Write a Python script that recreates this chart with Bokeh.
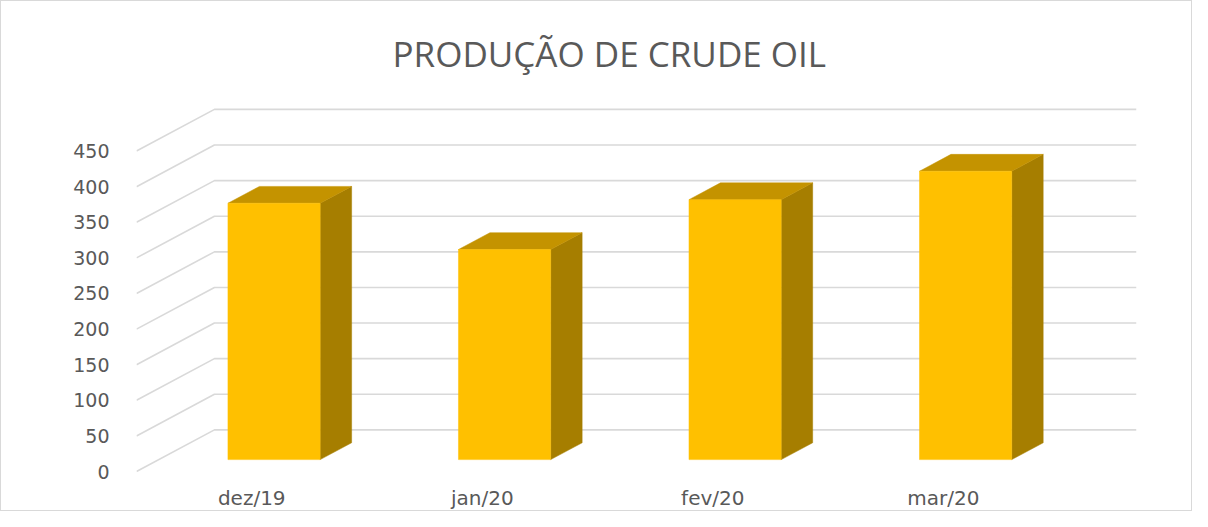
from bokeh.plotting import figure
from bokeh.models import FixedTicker, Range1d
from bokeh.embed import file_html
from bokeh.resources import INLINE

# ---- data ----
categories = ["dez/19", "jan/20", "fev/20", "mar/20"]
values = [360, 295, 365, 405]
y_ticks = [0, 50, 100, 150, 200, 250, 300, 350, 400, 450]

# ---- oblique 3D projection parameters (in axis units) ----
DEPTH_X = 0.338   # full floor depth, in category units
DEPTH_Y = 58.5    # full floor depth, in value units
T_FRONT, T_BACK = 0.286, 0.69
BAR_W = 0.40

FRONT = "#FFC000"
SIDE = "#A67E00"
TOP = "#C49300"
GRID = "#D9D9D9"
TXT = "#595959"

xs = list(range(len(categories)))
x_lo, x_hi = -0.5, len(categories) - 0.5

p = figure(width=1192, height=511, output_backend="svg", toolbar_location=None,
           x_range=Range1d(x_lo, x_hi + DEPTH_X), y_range=Range1d(-5.57, 519.6),
           min_border_left=135, min_border_right=57, min_border_top=100, min_border_bottom=34)
p.outline_line_color = None
p.xgrid.visible = False
p.ygrid.visible = False
p.background_fill_color = "white"
p.border_fill_color = "white"
p.styles = {"border": "1px solid #d9d9d9"}

# gridlines on side wall and back wall
g_xs, g_ys = [], []
for t in y_ticks:
    g_xs.append([x_lo, x_lo + DEPTH_X, x_hi + DEPTH_X])
    g_ys.append([t, t + DEPTH_Y, t + DEPTH_Y])
p.multi_line(xs=g_xs, ys=g_ys, line_color=GRID, line_width=1.6)

# bars (front face, side face, top face)
fdx, fdy = T_FRONT * DEPTH_X, T_FRONT * DEPTH_Y
ddx, ddy = (T_BACK - T_FRONT) * DEPTH_X, (T_BACK - T_FRONT) * DEPTH_Y
left = [x - BAR_W / 2 + fdx for x in xs]
right = [x + BAR_W / 2 + fdx for x in xs]
bottom = [fdy for _ in xs]
top = [v + fdy for v in values]

side_xs = [[r, r + ddx, r + ddx, r] for r in right]
side_ys = [[b, b + ddy, tp + ddy, tp] for b, tp in zip(bottom, top)]
top_xs = [[l, r, r + ddx, l + ddx] for l, r in zip(left, right)]
top_ys = [[tp, tp, tp + ddy, tp + ddy] for tp in top]

p.patches(xs=side_xs, ys=side_ys, fill_color=SIDE, line_color=SIDE, line_width=0.5)
p.patches(xs=top_xs, ys=top_ys, fill_color=TOP, line_color=TOP, line_width=0.5)
p.quad(left=left, right=right, bottom=bottom, top=top,
       fill_color=FRONT, line_color=FRONT, line_width=0.5)

# axes
for ax in (p.xaxis[0], p.yaxis[0]):
    ax.axis_line_color = None
    ax.major_tick_line_color = None
    ax.minor_tick_line_color = None
    ax.major_tick_out = 0
    ax.major_tick_in = 0
    ax.minor_tick_out = 0
    ax.minor_tick_in = 0
    ax.major_label_text_font = "DejaVu Sans"
    ax.major_label_text_color = TXT

p.yaxis.ticker = FixedTicker(ticks=y_ticks)
p.yaxis.major_label_standoff = 27
p.yaxis.major_label_text_font_size = "19px"

p.xaxis.ticker = FixedTicker(ticks=xs)
p.xaxis.major_label_overrides = {i: c for i, c in zip(xs, categories)}
p.xaxis.major_label_standoff = 10
p.xaxis.major_label_text_font_size = "20px"

p.title.text = "PRODUÇÃO DE CRUDE OIL"
p.title.align = "left"
p.title.offset = 256
p.title.text_font = "Open Sans"
p.title.text_font_style = "normal"
p.title.text_font_size = "35px"
p.title.text_color = TXT
p.title.standoff = 49

open("out.html", "w").write(file_html(p, INLINE))
